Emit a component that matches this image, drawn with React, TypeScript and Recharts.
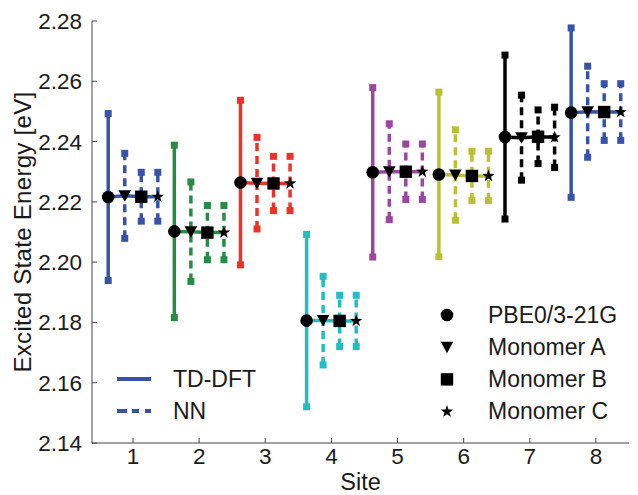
import React from 'react';
import { ComposedChart, Scatter, XAxis, YAxis } from 'recharts';

const sites = [1, 2, 3, 4, 5, 6, 7, 8];
const siteColors = ['#3653a5', '#268c45', '#ec3327', '#20bec2', '#9b46a3', '#b9c032', '#000000', '#3653a5'];

// TD-DFT / PBE0/3-21G values and spread per site
const pbe0 = [2.2216, 2.2102, 2.2264, 2.1806, 2.2298, 2.2291, 2.2415, 2.2496];
const pbe0Err = [0.0277, 0.0286, 0.0273, 0.0286, 0.0281, 0.0273, 0.0272, 0.0281];
// NN predictions per monomer
const monomerA = [2.222, 2.2101, 2.2262, 2.1806, 2.23, 2.2289, 2.2413, 2.2499];
const monomerAErr = [0.0141, 0.0165, 0.0152, 0.0147, 0.0159, 0.015, 0.0141, 0.0151];
const monomerB = [2.2217, 2.2098, 2.2261, 2.1805, 2.23, 2.2286, 2.2416, 2.2498];
const monomerBErr = [0.0081, 0.009, 0.009, 0.0085, 0.0092, 0.0082, 0.0089, 0.0094];
const monomerC = [2.2217, 2.2098, 2.2261, 2.1805, 2.23, 2.2286, 2.2414, 2.2498];
const monomerCErr = [0.0081, 0.009, 0.009, 0.0085, 0.0092, 0.0082, 0.01, 0.0094];

const yTicks = [2.14, 2.16, 2.18, 2.2, 2.22, 2.24, 2.26, 2.28];
const offsets = [-0.375, -0.125, 0.125, 0.375];

const groups = [
  { name: 'PBE0/3-21G', marker: 'circle', values: pbe0, errs: pbe0Err, dashed: false },
  { name: 'Monomer A', marker: 'triangle', values: monomerA, errs: monomerAErr, dashed: true },
  { name: 'Monomer B', marker: 'square', values: monomerB, errs: monomerBErr, dashed: true },
  { name: 'Monomer C', marker: 'star', values: monomerC, errs: monomerCErr, dashed: true },
];

const font = '"Liberation Sans", Arial, Helvetica, sans-serif';
const textColor = '#1a1a1a';
const axisColor = '#444';

function starPath(cx: number, cy: number, R: number, r: number) {
  let d = '';
  for (let i = 0; i < 10; i++) {
    const rad = i % 2 === 0 ? R : r;
    const a = -Math.PI / 2 + (i * Math.PI) / 5;
    d += (i === 0 ? 'M' : 'L') + (cx + rad * Math.cos(a)).toFixed(2) + ',' + (cy + rad * Math.sin(a)).toFixed(2);
  }
  return d + 'Z';
}

function Marker({ kind, cx, cy }: { kind: string; cx: number; cy: number }) {
  if (kind === 'circle') return <circle cx={cx} cy={cy} r={6.3} fill="#000" />;
  if (kind === 'triangle')
    return <path d={`M${cx - 6.3},${cy - 5.5}L${cx + 6.3},${cy - 5.5}L${cx},${cy + 6}Z`} fill="#000" />;
  if (kind === 'square') return <rect x={cx - 6.2} y={cy - 6.2} width={12.4} height={12.4} fill="#000" />;
  return <path d={starPath(cx, cy, 6.5, 2.6)} fill="#000" />;
}

const Cap = (color: string) => (props: any) => (
  <rect x={props.cx - 3.5} y={props.cy - 3.5} width={7} height={7} fill={color} />
);

const NoShape = () => <g />;

export default function App() {
  const errorBars: React.ReactNode[] = [];
  const joins: React.ReactNode[] = [];

  sites.forEach((site, i) => {
    const color = siteColors[i];
    groups.forEach((g, k) => {
      const x = site + offsets[k];
      const data = [
        { x, y: g.values[i] - g.errs[i] },
        { x, y: g.values[i] + g.errs[i] },
      ];
      errorBars.push(
        <Scatter
          key={`err-${i}-${k}`}
          data={data}
          fill={color}
          isAnimationActive={false}
          line={{ stroke: color, strokeWidth: 3.5, strokeDasharray: g.dashed ? '8 5' : undefined }}
          shape={Cap(color)}
        />
      );
    });
    joins.push(
      <Scatter
        key={`join-${i}`}
        data={groups.map((g, k) => ({ x: site + offsets[k], y: g.values[i] }))}
        fill={color}
        isAnimationActive={false}
        line={{ stroke: color, strokeWidth: 3.5 }}
        shape={NoShape}
      />
    );
  });

  return (
    <div style={{ position: 'absolute', left: 0, top: 0, width: 638, height: 495, background: '#fff', fontFamily: font }}>
      <ComposedChart width={638} height={495} margin={{ top: 21, right: 9, left: 0, bottom: 0 }} style={{ fontFamily: font }}>
        <XAxis
          type="number"
          dataKey="x"
          domain={[0.38, 8.5]}
          ticks={sites}
          allowDataOverflow
          height={52}
          stroke={axisColor}
          tickSize={-5}
          tickMargin={10}
          tick={{ fontSize: 22.5, fill: textColor }}
          label={{ value: 'Site', position: 'insideBottom', offset: 5, style: { fontSize: 23.5, fill: textColor } }}
        />
        <XAxis
          xAxisId="top"
          orientation="top"
          type="number"
          domain={[0.38, 8.5]}
          ticks={sites}
          allowDataOverflow
          height={0}
          stroke={axisColor}
          tickSize={-5}
          tick={false}
        />
        <YAxis
          type="number"
          dataKey="y"
          domain={[2.14, 2.28]}
          ticks={yTicks}
          allowDataOverflow
          width={92}
          stroke={axisColor}
          tickSize={-5}
          tickMargin={15}
          tickFormatter={(v: number) => v.toFixed(2)}
          tick={{ fontSize: 22.5, fill: textColor }}
          label={{
            value: 'Excited State Energy [eV]',
            angle: -90,
            position: 'insideLeft',
            offset: 22,
            style: { textAnchor: 'middle', fontSize: 24, letterSpacing: 0.3, fill: textColor },
          }}
        />
        <YAxis
          yAxisId="right"
          orientation="right"
          type="number"
          domain={[2.14, 2.28]}
          ticks={yTicks}
          allowDataOverflow
          width={0}
          stroke={axisColor}
          tickSize={-5}
          tick={false}
        />
        {errorBars}
        {joins}
        {groups.map((g, k) => (
          <Scatter
            key={g.name}
            name={g.name}
            data={sites.map((site, i) => ({ x: site + offsets[k], y: g.values[i] }))}
            fill="#000"
            isAnimationActive={false}
            shape={(p: any) => <Marker kind={g.marker} cx={p.cx} cy={p.cy} />}
          />
        ))}
      </ComposedChart>
      <svg
        width={638}
        height={495}
        style={{ position: 'absolute', left: 0, top: 0, pointerEvents: 'none', fontFamily: font }}
      >
        <line x1={117} x2={151} y1={379} y2={379} stroke={siteColors[0]} strokeWidth={4} />
        <text x={173} y={387} fontSize={23} fill={textColor}>TD-DFT</text>
        <line x1={117} x2={151} y1={411} y2={411} stroke={siteColors[0]} strokeWidth={4} strokeDasharray="10 5 7 6" />
        <text x={173} y={419} fontSize={23} fill={textColor}>NN</text>
        {groups.map((g, k) => (
          <g key={g.name}>
            <Marker kind={g.marker} cx={447} cy={315 + k * 32.2} />
            <text x={488} y={322.5 + k * 32.2} fontSize={23} fill={textColor}>{g.name}</text>
          </g>
        ))}
      </svg>
    </div>
  );
}
